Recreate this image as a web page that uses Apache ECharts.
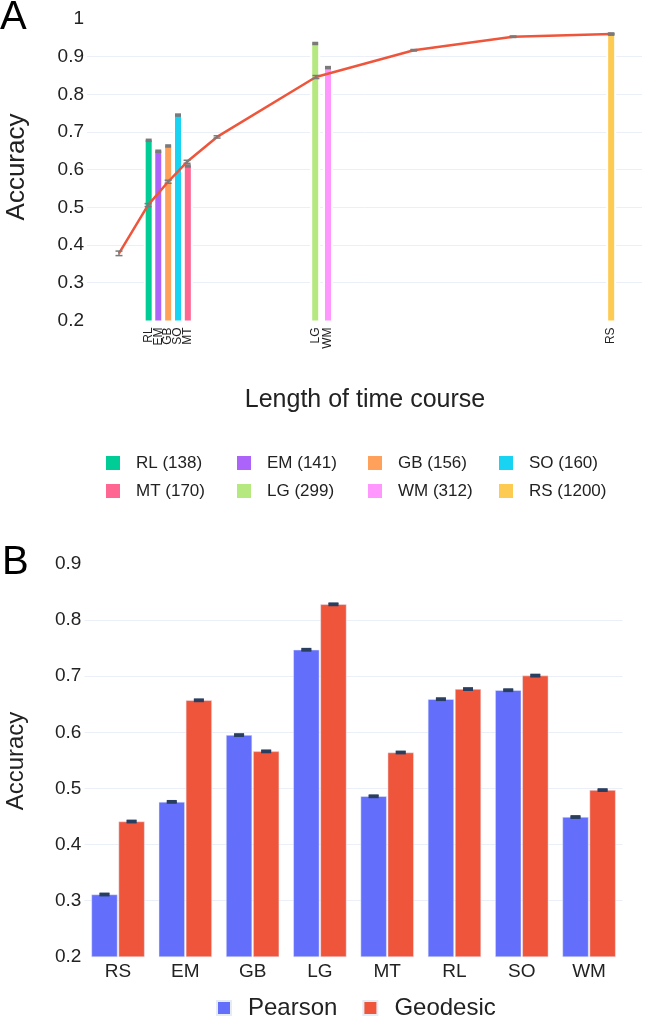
<!DOCTYPE html>
<html><head><meta charset="utf-8">
<script src="https://cdn.jsdelivr.net/npm/echarts@6/dist/echarts.min.js"></script>
<style>html,body{margin:0;padding:0;background:#fff}#c{width:645px;height:1020px}</style>
</head><body><div id="c"></div>
<script>
// ---------- Panel A data ----------
const topNames   = ['RL','EM','GB','SO','MT','LG','WM','RS'];
const topLengths = [138, 141, 156, 160, 170, 299, 312, 1200];
// x position of each bar on the (log) time-course axis
const topBarPos  = [136.8, 143.1, 149.9, 157.0, 164.4, 299, 317.5, 1200];
const topBarAcc  = [0.678, 0.649, 0.663, 0.745, 0.610, 0.935, 0.871, 0.960];
const topBarErr  = [0.002, 0.002, 0.002, 0.002, 0.002, 0.002, 0.002, 0.002];
const topColors  = ['#00CC96','#AB63FA','#FFA15A','#19D3F3','#FF6692','#B6E880','#FF97FF','#FECB52'];
const lineLen    = [119, 136.4, 149.9, 163.8, 188.6, 300, 475, 757, 1200];
const lineAcc    = [0.378, 0.506, 0.568, 0.621, 0.687, 0.846, 0.917, 0.953, 0.960];
const lineErr    = [0.006, 0.004, 0.004, 0.004, 0.003, 0.004, 0.002, 0.002, 0.002];
const topYMin = 0.2, topYMax = 1, topYStep = 0.1;

// ---------- Panel B data ----------
const botCats   = ['RS','EM','GB','LG','MT','RL','SO','WM'];
const pearson   = [0.311, 0.476, 0.595, 0.747, 0.486, 0.659, 0.675, 0.449];
const geodesic  = [0.441, 0.657, 0.566, 0.828, 0.564, 0.677, 0.701, 0.497];
const pearsonErr  = [0.002, 0.002, 0.002, 0.002, 0.002, 0.002, 0.002, 0.002];
const geodesicErr = [0.002, 0.002, 0.002, 0.002, 0.002, 0.002, 0.002, 0.002];
const botYMin = 0.2, botYMax = 0.9, botYStep = 0.1;

const FONT = 'Liberation Sans, Arial, sans-serif';
const TXT = '#222';
const GRID = '#EBF0F8';

const chart = echarts.init(document.getElementById('c'));

function topBarSeries(i) {
  return {
    type: 'custom', name: topNames[i] + ' (' + topLengths[i] + ')',
    xAxisIndex: 0, yAxisIndex: 0, z: 2,
    itemStyle: { color: topColors[i] },
    encode: { x: 0, y: 1 },
    data: [[topBarPos[i], topBarAcc[i], topBarErr[i]]],
    renderItem: function (params, api) {
      const x = api.value(0), y = api.value(1), e = api.value(2);
      const t = api.coord([x, y]), b = api.coord([x, topYMin]);
      const up = api.coord([x, y + e]), dn = api.coord([x, y - e]);
      const w = 6;
      return { type: 'group', children: [
        { type: 'rect', shape: { x: t[0] - w / 2 - 2, y: t[1], width: w + 4, height: b[1] - t[1] }, style: { fill: '#fff' } },
        { type: 'rect', shape: { x: t[0] - w / 2, y: t[1], width: w, height: b[1] - t[1] }, style: { fill: topColors[i] } },
        { type: 'rect', shape: { x: t[0] - 3, y: up[1] - 1, width: 6, height: dn[1] - up[1] + 2 }, style: { fill: '#7a7a7a' } },
        { type: 'text', x: t[0], y: b[1] + 7, rotation: Math.PI / 2,
          style: { text: topNames[i], align: 'right', verticalAlign: 'middle', fontSize: 12, fill: TXT, fontFamily: FONT } }
      ]};
    }
  };
}

const series = [];
for (let i = 0; i < topNames.length; i++) series.push(topBarSeries(i));
series.push({
  type: 'line', name: 'trend', xAxisIndex: 0, yAxisIndex: 0, z: 3,
  data: lineLen.map((x, i) => [x, lineAcc[i]]),
  symbol: 'none', lineStyle: { color: '#EF553B', width: 2.5 }, itemStyle: { color: '#EF553B' }
});
series.push({
  type: 'custom', name: 'trendErr', xAxisIndex: 0, yAxisIndex: 0, z: 4,
  encode: { x: 0, y: 1 },
  data: lineLen.map((x, i) => [x, lineAcc[i], lineErr[i]]),
  renderItem: function (params, api) {
    const x = api.value(0), y = api.value(1), e = api.value(2);
    const up = api.coord([x, y + e]), dn = api.coord([x, y - e]);
    const st = { stroke: '#7a7a7a', lineWidth: 1.5 };
    return { type: 'group', children: [
      { type: 'line', shape: { x1: up[0], y1: up[1], x2: dn[0], y2: dn[1] }, style: st },
      { type: 'line', shape: { x1: up[0] - 3.5, y1: up[1], x2: up[0] + 3.5, y2: up[1] }, style: st },
      { type: 'line', shape: { x1: dn[0] - 3.5, y1: dn[1], x2: dn[0] + 3.5, y2: dn[1] }, style: st }
    ]};
  }
});

const BCG = 0.21, BG = 0.04;
series.push({
  type: 'bar', name: 'Pearson', xAxisIndex: 1, yAxisIndex: 1, data: pearson,
  barCategoryGap: (BCG * 100) + '%', barGap: (BG * 100) + '%',
  itemStyle: { color: '#636EFA', borderColor: '#E5ECF6', borderWidth: 0.5 }
});
series.push({
  type: 'bar', name: 'Geodesic', xAxisIndex: 1, yAxisIndex: 1, data: geodesic,
  barCategoryGap: (BCG * 100) + '%', barGap: (BG * 100) + '%',
  itemStyle: { color: '#EF553B', borderColor: '#E5ECF6', borderWidth: 0.5 }
});
const botErrData = [];
botCats.forEach((c, i) => { botErrData.push([i, pearson[i], pearsonErr[i], 0]); botErrData.push([i, geodesic[i], geodesicErr[i], 1]); });
series.push({
  type: 'custom', name: 'botErr', xAxisIndex: 1, yAxisIndex: 1, z: 5,
  encode: { x: 0, y: 1 },
  data: botErrData,
  renderItem: function (params, api) {
    const ci = api.value(0), y = api.value(1), e = api.value(2), which = api.value(3);
    const bw = api.size([1, 0])[0];
    const barW = bw * (1 - BCG) / (2 + BG);
    const off = (which === 0 ? -1 : 1) * (barW / 2 + barW * BG / 2);
    const up = api.coord([ci, y + e]), dn = api.coord([ci, y - e]);
    const cx = up[0] + off;
    const st = { stroke: '#2a3f5f', lineWidth: 1.6 };
    return { type: 'group', children: [
      { type: 'rect', shape: { x: cx - 5, y: up[1], width: 10, height: dn[1] - up[1] }, style: { fill: '#2a3f5f' } },
      { type: 'line', shape: { x1: cx - 5, y1: up[1], x2: cx + 5, y2: up[1] }, style: st },
      { type: 'line', shape: { x1: cx - 5, y1: dn[1], x2: cx + 5, y2: dn[1] }, style: st }
    ]};
  }
});

const yAxisCommon = {
  type: 'value', axisLine: { show: false }, axisTick: { show: false },
  axisLabel: { fontSize: 19, color: TXT, fontFamily: FONT, margin: 3 },
  splitLine: { show: true, showMinLine: false, showMaxLine: false, lineStyle: { color: GRID, width: 1 } }
};

const topLegendText = { fontSize: 17, color: TXT, fontFamily: FONT, width: 84, lineHeight: 20, padding: [0, 0, 0, 11] };

const option = {
  backgroundColor: '#fff',
  animation: false,
  grid: [
    { left: 87, right: 3, top: 19, height: 301.4 },
    { left: 84.4, right: 22.3, top: 563.9, height: 392.9 }
  ],
  xAxis: [
    { type: 'log', logBase: 10, gridIndex: 0, min: 102.4, max: 1387,
      axisLine: { show: false }, axisTick: { show: false }, axisLabel: { show: false }, splitLine: { show: false } },
    { type: 'category', gridIndex: 1, data: botCats,
      axisLine: { show: false }, axisTick: { show: false },
      axisLabel: { fontSize: 19, color: TXT, fontFamily: FONT, margin: 5 } }
  ],
  yAxis: [
    Object.assign({}, yAxisCommon, { gridIndex: 0, min: topYMin, max: topYMax, interval: topYStep }),
    Object.assign({}, yAxisCommon, { gridIndex: 1, min: botYMin, max: botYMax, interval: botYStep })
  ],
  legend: [
    { data: topNames.slice(0, 4).map((n, i) => n + ' (' + topLengths[i] + ')'),
      left: 101, top: 448, width: 560, orient: 'horizontal', icon: 'rect', itemWidth: 14, itemHeight: 14, itemGap: 17,
      selectedMode: false, textStyle: topLegendText },
    { data: topNames.slice(4, 8).map((n, i) => n + ' (' + topLengths[i + 4] + ')'),
      left: 101, top: 476, width: 560, orient: 'horizontal', icon: 'rect', itemWidth: 14, itemHeight: 14, itemGap: 17,
      selectedMode: false, textStyle: topLegendText },
    { data: ['Pearson', 'Geodesic'], left: 211, top: 989, icon: 'rect', itemWidth: 14, itemHeight: 14, itemGap: 25,
      selectedMode: false,
      textStyle: { fontSize: 24, color: TXT, fontFamily: FONT, lineHeight: 28, padding: [0, 0, 0, 12] } }
  ],
  graphic: [
    { type: 'text', x: 0, y: 18, style: { text: 'A', fontSize: 40, fill: '#000', fontFamily: FONT, align: 'left', verticalAlign: 'middle' } },
    { type: 'text', x: 2, y: 563, style: { text: 'B', fontSize: 40, fill: '#000', fontFamily: FONT, align: 'left', verticalAlign: 'middle' } },
    { type: 'text', x: 17, y: 167, rotation: Math.PI / 2, style: { text: 'Accuracy', fontSize: 26, fill: TXT, fontFamily: FONT, align: 'center', verticalAlign: 'middle' } },
    { type: 'text', x: 16, y: 761, rotation: Math.PI / 2, style: { text: 'Accuracy', fontSize: 24, fill: TXT, fontFamily: FONT, align: 'center', verticalAlign: 'middle' } },
    { type: 'text', x: 365, y: 400, style: { text: 'Length of time course', fontSize: 25, fill: TXT, fontFamily: FONT, align: 'center', verticalAlign: 'middle' } }
  ],
  series: series
};
chart.setOption(option);
</script>
</body></html>
